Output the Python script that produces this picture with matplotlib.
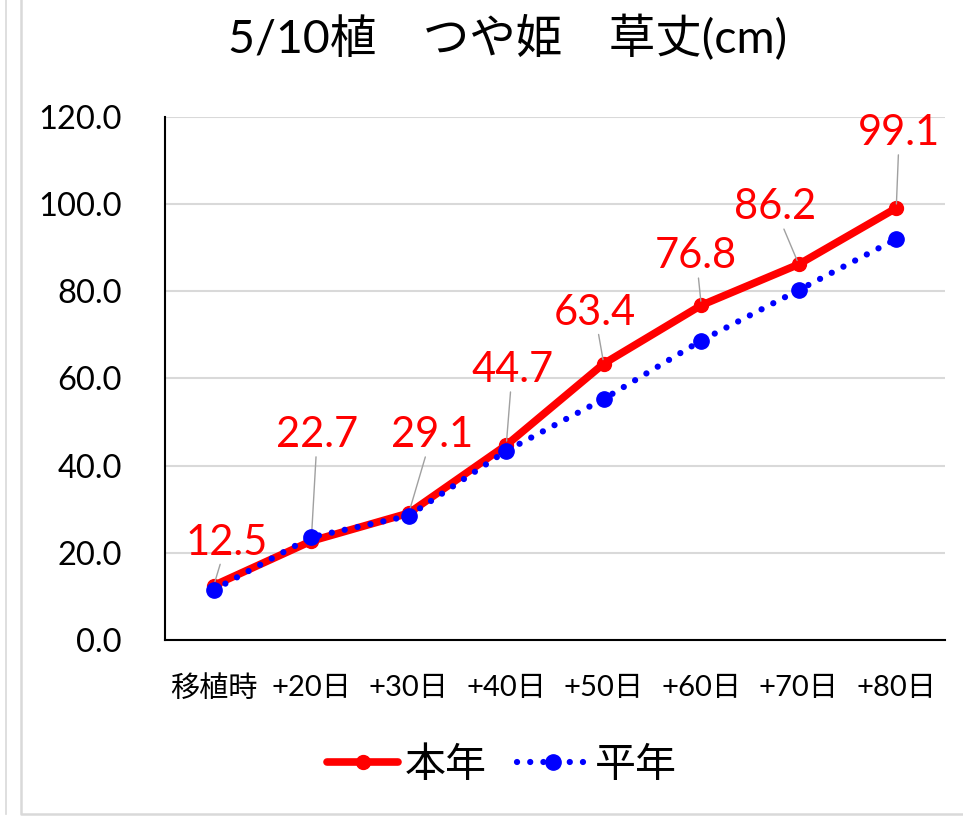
import matplotlib
matplotlib.use('Agg')
import matplotlib.pyplot as plt
from matplotlib.lines import Line2D
import numpy as np

plt.rcParams['font.family'] = ['Lato', 'Noto Sans CJK JP', 'DejaVu Sans']

# data
days    = ['移植時', '+20日', '+30日', '+40日', '+50日', '+60日', '+70日', '+80日']
honnen  = [12.5, 22.7, 29.1, 44.7, 63.4, 76.8, 86.2, 99.1]
heinen  = [11.5, 23.6, 28.5, 43.4, 55.3, 68.7, 80.3, 92.0]

# label offsets (pixels) for the data labels
label_off = [(13, 43), (6, 106), (23, 78), (6, 75), (-9, 51), (-5, 49), (-24, 57), (3, 75)]

fig = plt.figure(figsize=(9.63, 8.3), dpi=100)
fig.patch.set_facecolor('white')
ax = fig.add_axes([165 / 963, 190 / 830, 780 / 963, 523 / 830])

x = np.arange(len(days))
ax.plot(x, honnen, color='red', lw=5.5, marker='o', markersize=10,
        solid_capstyle='round', label='本年', zorder=3)
ax.plot(x, heinen, color='blue', lw=4.5, linestyle=(0, (0.01, 2.1)),
        dash_capstyle='round', marker='o', markersize=11, label='平年', zorder=4)

for xi, val, (dx, dy) in zip(x, honnen, label_off):
    ax.annotate(f'{val:.1f}', xy=(xi, val), xytext=(dx, dy), textcoords='offset pixels',
                ha='center', va='center', fontsize=30, color='red',
                arrowprops=dict(arrowstyle='-', color='#a0a0a0', lw=1,
                                shrinkA=0, shrinkB=3))

ax.set_xlim(-0.5, len(days) - 0.5)
ax.set_ylim(0, 120)
ax.set_yticks(np.arange(0, 121, 20))
ax.set_yticklabels([f'{v:.1f}' for v in np.arange(0, 121, 20)], fontsize=23.5)
ax.set_xticks(x)
ax.set_xticklabels(days, fontsize=21)
ax.tick_params(axis='y', length=0, pad=31)
ax.tick_params(axis='x', length=0, pad=25)
ax.grid(axis='y', color='#d9d9d9', lw=1.5)
ax.set_axisbelow(True)
ax.spines['top'].set_visible(False)
ax.spines['right'].set_visible(False)
ax.spines['left'].set_linewidth(1.5)
ax.spines['bottom'].set_linewidth(1.5)

fig.text(0.527, 1 - 38 / 830, '5/10植　つや姫　草丈(cm)', ha='center', va='center',
         fontsize=33.5)

fig.legend(loc='center', bbox_to_anchor=(502 / 963, 1 - 765 / 830), ncol=2,
           frameon=False, fontsize=29.5, handlelength=1.75, handletextpad=0.15,
           columnspacing=0.75, numpoints=1)

# chart frame
fig.add_artist(Line2D([6 / 963, 6 / 963], [1, 1 - 814 / 830], transform=fig.transFigure,
                      color='#d9d9d9', lw=1.2))
fig.add_artist(Line2D([21 / 963, 21 / 963, 1], [1, 1 - 814 / 830, 1 - 814 / 830],
                      transform=fig.transFigure, color='#d9d9d9', lw=1.8))

plt.savefig('out.png', dpi=100, facecolor='white')
